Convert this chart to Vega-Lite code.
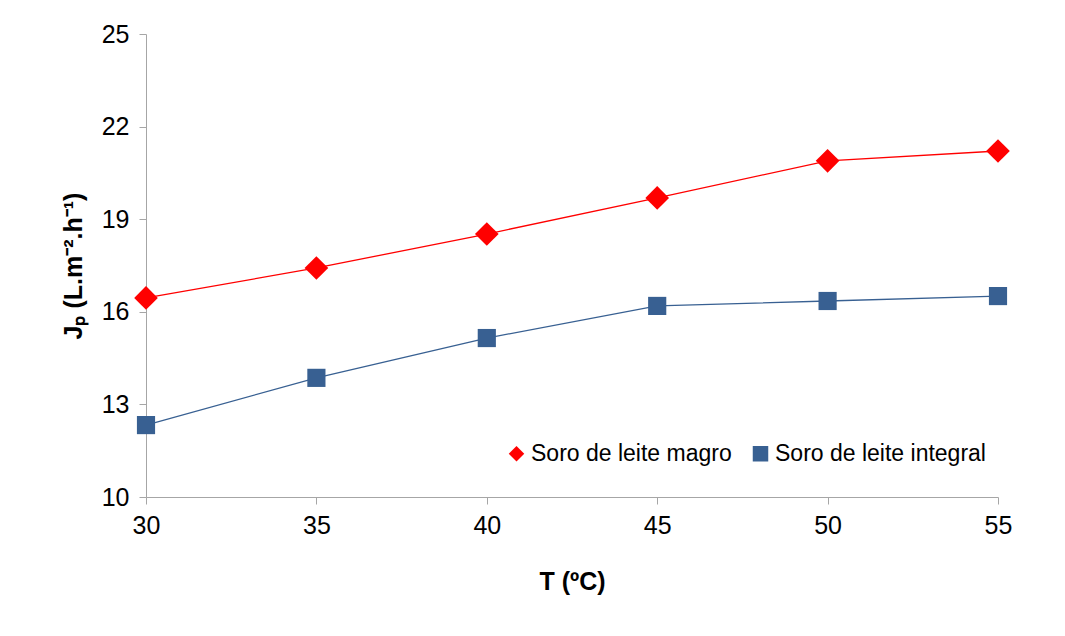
{
  "$schema": "https://vega.github.io/schema/vega-lite/v6.json",
  "width": 852,
  "height": 463,
  "autosize": {"type": "none"},
  "padding": {"left": 146, "top": 34, "right": 67, "bottom": 139},
  "background": "white",
  "config": {
    "font": "Liberation Sans",
    "view": {"stroke": null},
    "axis": {
      "grid": false,
      "domainColor": "#a6a6a6",
      "tickColor": "#a6a6a6",
      "tickSize": 7,
      "labelFont": "Liberation Sans",
      "labelFontSize": 25,
      "labelColor": "#000000",
      "titleFont": "Liberation Sans",
      "titleFontSize": 25,
      "titleFontWeight": "bold",
      "titleColor": "#000000"
    }
  },
  "data": {
    "values": [
      {"T": 30, "J": 16.45, "serie": "Soro de leite magro"},
      {"T": 35, "J": 17.42, "serie": "Soro de leite magro"},
      {"T": 40, "J": 18.52, "serie": "Soro de leite magro"},
      {"T": 45, "J": 19.69, "serie": "Soro de leite magro"},
      {"T": 50, "J": 20.89, "serie": "Soro de leite magro"},
      {"T": 55, "J": 21.21, "serie": "Soro de leite magro"},
      {"T": 30, "J": 12.33, "serie": "Soro de leite integral"},
      {"T": 35, "J": 13.86, "serie": "Soro de leite integral"},
      {"T": 40, "J": 15.15, "serie": "Soro de leite integral"},
      {"T": 45, "J": 16.19, "serie": "Soro de leite integral"},
      {"T": 50, "J": 16.35, "serie": "Soro de leite integral"},
      {"T": 55, "J": 16.51, "serie": "Soro de leite integral"}
    ]
  },
  "encoding": {
    "x": {
      "field": "T",
      "type": "quantitative",
      "scale": {"domain": [30, 55], "nice": false, "zero": false},
      "axis": {
        "values": [30, 35, 40, 45, 50, 55],
        "title": "T (ºC)",
        "labelFlush": false,
        "labelPadding": 9,
        "titlePadding": 31
      }
    },
    "y": {
      "field": "J",
      "type": "quantitative",
      "scale": {"domain": [10, 25], "nice": false, "zero": false},
      "axis": {
        "values": [10, 13, 16, 19, 22, 25],
        "title": "Jₚ (L.m⁻².h⁻¹)",
        "labelFlush": false,
        "labelPadding": 10,
        "titlePadding": 15
      }
    }
  },
  "layer": [
    {
      "transform": [{"filter": "datum.serie === 'Soro de leite magro'"}],
      "mark": {"type": "line", "strokeWidth": 1.3, "color": "#ff0000"},
      "encoding": {}
    },
    {
      "transform": [{"filter": "datum.serie === 'Soro de leite integral'"}],
      "mark": {"type": "line", "strokeWidth": 1.3, "color": "#386092"},
      "encoding": {}
    },
    {
      "mark": {"type": "point", "filled": true, "opacity": 1},
      "encoding": {
        "color": {
          "field": "serie",
          "type": "nominal",
          "scale": {
            "domain": ["Soro de leite magro", "Soro de leite integral"],
            "range": ["#ff0000", "#386092"]
          },
          "legend": {
            "orient": "none",
            "legendX": 359,
            "legendY": 408,
            "direction": "horizontal",
            "title": null,
            "padding": 0,
            "labelFontSize": 23,
            "labelFont": "Liberation Sans",
            "labelColor": "#000000",
            "labelLimit": 400,
            "symbolSize": 240,
            "symbolOpacity": 1,
            "labelOffset": 3,
            "columnPadding": 17
          }
        },
        "shape": {
          "field": "serie",
          "type": "nominal",
          "scale": {
            "domain": ["Soro de leite magro", "Soro de leite integral"],
            "range": ["diamond", "square"]
          },
          "legend": {
            "orient": "none",
            "legendX": 359,
            "legendY": 408,
            "direction": "horizontal",
            "title": null,
            "padding": 0,
            "labelFontSize": 23,
            "labelFont": "Liberation Sans",
            "labelColor": "#000000",
            "labelLimit": 400,
            "symbolSize": 240,
            "symbolOpacity": 1,
            "labelOffset": 3,
            "columnPadding": 17
          }
        },
        "size": {
          "condition": {"test": "datum.serie === 'Soro de leite magro'", "value": 560},
          "value": 330
        }
      }
    }
  ]
}
